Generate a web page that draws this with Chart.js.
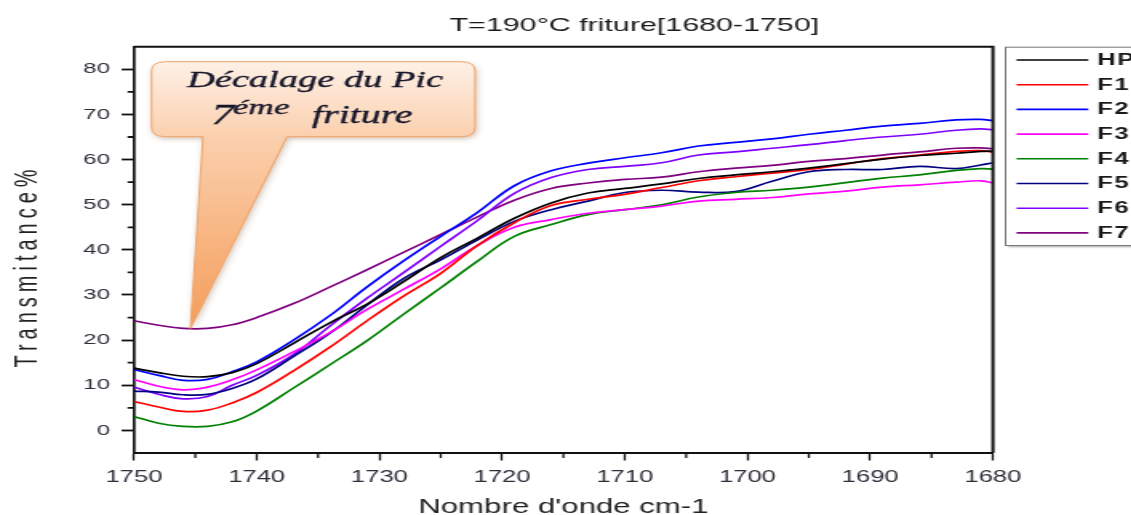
<!DOCTYPE html>
<html>
<head>
<meta charset="utf-8">
<script src="https://cdn.jsdelivr.net/npm/chart.js@4/dist/chart.umd.min.js"></script>
<style>
  html, body { margin: 0; padding: 0; background: #fff; overflow: hidden; }
  #marco { width: 1131px; height: 515px; overflow: hidden; }
  /* la figura original esta estirada en horizontal */
  #grafico { transform-origin: 0 0; transform: scaleX(1.6); }
</style>
</head>
<body>
<div id="marco"><canvas id="grafico" width="707" height="515" style="width:707px;height:515px"></canvas></div>
<script>
const ondas = [1750, 1748, 1746, 1744, 1742, 1740, 1737, 1734, 1731, 1728, 1725, 1722, 1719, 1716, 1713, 1710, 1707, 1704, 1701, 1698, 1695, 1692, 1689, 1686, 1683, 1681, 1680];
const hp = [13.8, 12.8, 12.0, 11.9, 12.8, 14.8, 19.3, 23.9, 28.0, 33.0, 38.3, 42.6, 47.0, 50.4, 52.6, 53.6, 54.6, 55.8, 56.6, 57.3, 58.1, 59.1, 60.1, 60.9, 61.4, 61.8, 61.9];
const f1 = [6.4, 5.2, 4.2, 4.5, 6.1, 8.4, 13.2, 18.5, 24.3, 29.8, 34.8, 41.0, 46.0, 49.8, 51.2, 52.3, 53.8, 55.3, 56.2, 57.0, 57.8, 59.0, 60.2, 61.0, 61.8, 62.0, 61.6];
const f2 = [13.5, 12.2, 11.1, 11.3, 13.0, 15.2, 20.0, 25.5, 31.8, 37.6, 43.0, 48.3, 54.2, 57.5, 59.2, 60.4, 61.5, 63.0, 63.8, 64.6, 65.6, 66.5, 67.4, 68.0, 68.8, 68.9, 68.6];
const f3 = [11.3, 9.8, 9.0, 9.6, 11.2, 13.4, 17.4, 21.7, 26.8, 31.3, 35.8, 41.0, 45.0, 46.7, 48.1, 48.9, 49.7, 50.8, 51.2, 51.6, 52.4, 53.0, 53.9, 54.4, 55.0, 55.3, 54.8];
const f4 = [3.1, 1.6, 0.9, 0.9, 1.9, 4.3, 9.4, 14.6, 19.9, 25.8, 31.6, 37.5, 43.0, 45.6, 47.8, 48.9, 50.0, 51.7, 52.7, 53.2, 53.9, 54.9, 55.9, 56.6, 57.6, 58.0, 57.9];
const f5 = [8.7, 8.5, 7.9, 8.0, 9.3, 11.4, 16.4, 21.6, 27.8, 33.7, 37.8, 42.2, 46.3, 48.9, 50.8, 52.7, 53.2, 52.8, 52.9, 55.2, 57.3, 57.8, 57.8, 58.5, 58.0, 58.8, 59.3];
const f6 = [9.6, 8.0, 7.0, 7.5, 10.0, 12.2, 16.8, 23.2, 29.3, 35.0, 40.8, 46.5, 52.5, 56.0, 57.8, 58.5, 59.3, 61.0, 61.7, 62.5, 63.3, 64.2, 65.0, 65.6, 66.5, 66.8, 66.6];
const f7 = [24.3, 23.3, 22.6, 22.6, 23.4, 25.0, 28.1, 31.8, 35.6, 39.5, 43.4, 47.3, 51.0, 53.6, 54.8, 55.6, 56.1, 57.3, 58.1, 58.7, 59.6, 60.2, 61.0, 61.7, 62.5, 62.6, 62.4];

const nombres = ["HP", "F1", "F2", "F3", "F4", "F5", "F6", "F7"];
const series = [hp, f1, f2, f3, f4, f5, f6, f7];
const colores = ["#000000", "#ff0000", "#0000ff", "#ff00ff", "#008000", "#000080", "#8000ff", "#800080"];

const ticksX = [1750, 1740, 1730, 1720, 1710, 1700, 1690, 1680];
const ticksY = [0, 10, 20, 30, 40, 50, 60, 70, 80];

const fuente = "'Liberation Sans', Arial, sans-serif";

// marco superior/derecho, ticks menores y titulos
const ejes = {
    id: "ejes",
    afterDraw(chart) {
        const { ctx, chartArea: a, scales: { x, y } } = chart;
        ctx.save();
        ctx.strokeStyle = "#111";
        ctx.lineWidth = 2;
        ctx.beginPath();
        ctx.moveTo(a.left, a.top);
        ctx.lineTo(a.right, a.top);
        ctx.lineTo(a.right, a.bottom);
        ctx.stroke();

        ctx.lineWidth = 1.3;
        ctx.beginPath();
        for (let i = 0; i < ticksX.length - 1; i++) {
            const px = x.getPixelForValue((ticksX[i] + ticksX[i + 1]) / 2);
            ctx.moveTo(px, a.bottom);
            ctx.lineTo(px, a.bottom + 5);
        }
        ctx.stroke();
        ctx.lineWidth = 1.8;
        ctx.beginPath();
        for (let i = 0; i < ticksY.length - 1; i++) {
            const py = y.getPixelForValue((ticksY[i] + ticksY[i + 1]) / 2);
            ctx.moveTo(a.left, py);
            ctx.lineTo(a.left - 4, py);
        }
        ctx.stroke();

        ctx.fillStyle = "#1a1a1a";
        ctx.font = "19px " + fuente;
        ctx.textAlign = "center";
        ctx.textBaseline = "middle";
        ctx.fillText("T=190°C friture[1680-1750]", 396.5, 26);

        ctx.translate(23, 266);
        ctx.rotate(-Math.PI / 2);
        ctx.font = "20px " + fuente;
        ctx.letterSpacing = "5px";
        ctx.textBaseline = "alphabetic";
        ctx.fillStyle = "#222";
        ctx.fillText("Transmitance%", 0, 0);
        ctx.restore();
    },
};

const leyenda = {
    id: "leyenda",
    afterDraw(chart) {
        const { ctx } = chart;
        const izq = 628, arriba = 46.7, abajo = 245;
        ctx.save();
        ctx.shadowColor = "rgba(0,0,0,0.35)";
        ctx.shadowOffsetX = 1.5;
        ctx.shadowOffsetY = 2;
        ctx.shadowBlur = 2;
        ctx.fillStyle = "#fff";
        ctx.fillRect(izq, arriba, 150, abajo - arriba);
        ctx.shadowColor = "transparent";
        ctx.strokeStyle = "#777";
        ctx.lineWidth = 1;
        ctx.strokeRect(izq + 0.5, arriba + 0.5, 150, abajo - arriba);
        chart.data.datasets.forEach((ds, i) => {
            const yy = arriba + 13.3 + i * 24.7;
            ctx.strokeStyle = ds.borderColor;
            ctx.lineWidth = 1.6;
            ctx.beginPath();
            ctx.moveTo(635.4, yy);
            ctx.lineTo(680.2, yy);
            ctx.stroke();
            ctx.fillStyle = "#1a1a1a";
            ctx.font = "bold 16px " + fuente;
            ctx.letterSpacing = "1px";
            ctx.textAlign = "left";
            ctx.textBaseline = "middle";
            ctx.fillText(ds.label, 685.8, yy + 0.5);
        });
        ctx.restore();
    },
};

// bocadillo "Decalage du Pic"
const bocadillo = {
    id: "bocadillo",
    afterDatasetsDraw(chart) {
        const { ctx, scales: { x, y } } = chart;
        const L = 94.8, R = 296.9, T = 61.7, B = 136.7, r = 9;
        const b1 = 126.9, b2 = 179.4;
        const px = x.getPixelForValue(1745.4), py = y.getPixelForValue(22.6);
        ctx.save();
        const grad = ctx.createLinearGradient(0, T, 0, py);
        grad.addColorStop(0, "#fef1e7");
        grad.addColorStop(0.28, "#fbd0ae");
        grad.addColorStop(1, "#f59d5a");
        ctx.beginPath();
        ctx.moveTo(L + r, T);
        ctx.lineTo(R - r, T);
        ctx.quadraticCurveTo(R, T, R, T + r);
        ctx.lineTo(R, B - r);
        ctx.quadraticCurveTo(R, B, R - r, B);
        ctx.lineTo(b2, B);
        ctx.lineTo(px, py);
        ctx.lineTo(b1, B);
        ctx.lineTo(L + r, B);
        ctx.quadraticCurveTo(L, B, L, B - r);
        ctx.lineTo(L, T + r);
        ctx.quadraticCurveTo(L, T, L + r, T);
        ctx.closePath();
        ctx.shadowColor = "rgba(120,70,30,0.35)";
        ctx.shadowBlur = 5;
        ctx.shadowOffsetX = 1;
        ctx.shadowOffsetY = 2;
        ctx.fillStyle = grad;
        ctx.fill();
        ctx.shadowColor = "transparent";
        ctx.strokeStyle = "#f0a468";
        ctx.lineWidth = 1;
        ctx.stroke();

        ctx.fillStyle = "#16162a";
        ctx.strokeStyle = "#16162a";
        ctx.lineWidth = 0.35;
        ctx.textBaseline = "alphabetic";
        ctx.textAlign = "center";
        ctx.font = "italic 24px 'Liberation Serif', serif";
        ctx.fillText("Décalage du Pic", 196.9, 87);
        ctx.strokeText("Décalage du Pic", 196.9, 87);
        ctx.textAlign = "left";
        ctx.font = "italic 25px 'Liberation Serif', serif";
        ctx.fillText("friture", 195, 123);
        ctx.strokeText("friture", 195, 123);
        ctx.font = "italic 29px 'Liberation Serif', serif";
        ctx.fillText("7", 132, 124);
        ctx.strokeText("7", 132, 124);
        ctx.font = "italic 22px 'Liberation Serif', serif";
        ctx.fillText("éme", 145.5, 114);
        ctx.strokeText("éme", 145.5, 114);
        ctx.restore();
    },
};

new Chart(document.querySelector("#grafico").getContext("2d"), {
    type: "line",
    data: {
        datasets: series.map((s, i) => ({
            label: nombres[i],
            data: s.map((v, j) => ({ x: ondas[j], y: v })),
            borderColor: colores[i],
            backgroundColor: colores[i],
            borderWidth: 1.7,
            pointRadius: 0,
            tension: 0.4,
            fill: false,
        })),
    },
    options: {
        responsive: false,
        animation: false,
        devicePixelRatio: 1,
        layout: { padding: { top: 46.7, right: 86.4, left: 0, bottom: 0 } },
        plugins: {
            legend: { display: false },
            title: { display: false },
            tooltip: { enabled: false },
        },
        scales: {
            x: {
                type: "linear",
                min: 1680,
                max: 1750,
                reverse: true,
                afterBuildTicks: (eje) => { eje.ticks = ticksX.map((v) => ({ value: v })); },
                afterFit: (eje) => { eje.height = 62; },
                grid: { drawOnChartArea: false, tickLength: 7.5, tickWidth: 1.3, tickColor: "#111" },
                border: { display: true, color: "#111", width: 2 },
                ticks: {
                    padding: 7,
                    maxRotation: 0,
                    autoSkip: false,
                    color: "#2e2e3a",
                    font: { family: fuente, size: 16 },
                    callback: (v) => String(v),
                },
                title: {
                    display: true,
                    text: "Nombre d'onde cm-1",
                    color: "#222",
                    font: { family: fuente, size: 19.5 },
                    padding: { top: 0, bottom: -4 },
                },
            },
            y: {
                min: -5,
                max: 85,
                afterBuildTicks: (eje) => { eje.ticks = ticksY.map((v) => ({ value: v })); },
                afterFit: (eje) => { eje.width = 83.75; },
                grid: { drawOnChartArea: false, tickLength: 7.7, tickWidth: 1.8, tickColor: "#111" },
                border: { display: true, color: "#111", width: 1.7 },
                ticks: {
                    padding: 7.3,
                    color: "#2e2e3a",
                    font: { family: fuente, size: 15 },
                    callback: (v) => String(v),
                },
            },
        },
    },
    plugins: [bocadillo, ejes, leyenda],
});
</script>
</body>
</html>
